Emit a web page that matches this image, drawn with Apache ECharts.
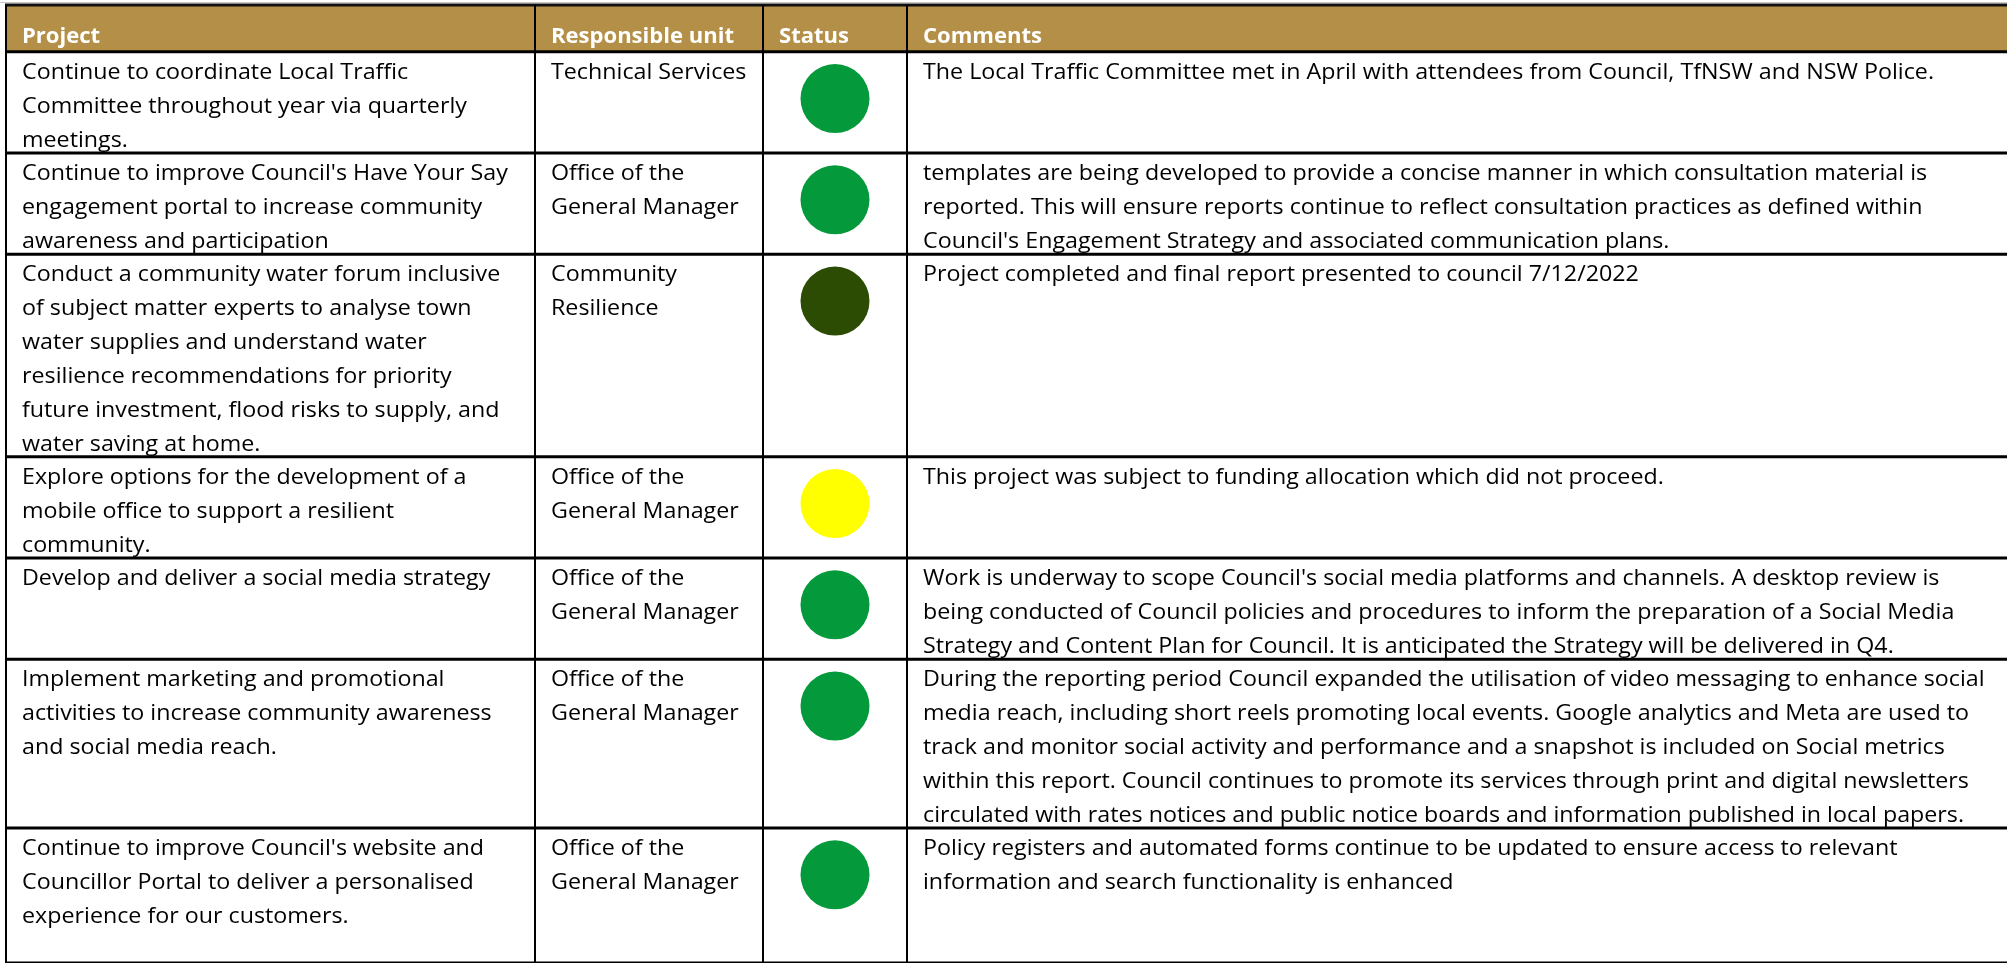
<!DOCTYPE html>
<html><head><meta charset="utf-8">
<script src="https://cdn.jsdelivr.net/npm/echarts@6/dist/echarts.min.js"></script>
<style>html,body{margin:0;padding:0;background:#fff;overflow:hidden}#c{width:2007px;height:963px}</style>
</head><body><div id="c"></div>
<script>
// ---------------- DATA ----------------
const headers = ['Project', 'Responsible unit', 'Status', 'Comments'];

const projects = [
  ['Continue to coordinate Local Traffic', 'Committee throughout year via quarterly', 'meetings.'],
  ["Continue to improve Council's Have Your Say", 'engagement portal to increase community', 'awareness and participation'],
  ['Conduct a community water forum inclusive', 'of subject matter experts to analyse town', 'water supplies and understand water', 'resilience recommendations for priority', 'future investment, flood risks to supply, and', 'water saving at home.'],
  ['Explore options for the development of a', 'mobile office to support a resilient', 'community.'],
  ['Develop and deliver a social media strategy'],
  ['Implement marketing and promotional', 'activities to increase community awareness', 'and social media reach.'],
  ["Continue to improve Council's website and", 'Councillor Portal to deliver a personalised', 'experience for our customers.']
];

const units = [
  ['Technical Services'],
  ['Office of the', 'General Manager'],
  ['Community', 'Resilience'],
  ['Office of the', 'General Manager'],
  ['Office of the', 'General Manager'],
  ['Office of the', 'General Manager'],
  ['Office of the', 'General Manager']
];

const statuses = ['onTrack', 'onTrack', 'completed', 'notProceeding', 'onTrack', 'onTrack', 'onTrack'];

const comments = [
  ['The Local Traffic Committee met in April with attendees from Council, TfNSW and NSW Police.'],
  ['templates are being developed to provide a concise manner in which consultation material is', 'reported. This will ensure reports continue to reflect consultation practices as defined within', "Council's Engagement Strategy and associated communication plans."],
  ['Project completed and final report presented to council 7/12/2022'],
  ['This project was subject to funding allocation which did not proceed.'],
  ["Work is underway to scope Council's social media platforms and channels. A desktop review is", 'being conducted of Council policies and procedures to inform the preparation of a Social Media', 'Strategy and Content Plan for Council. It is anticipated the Strategy will be delivered in Q4.'],
  ['During the reporting period Council expanded the utilisation of video messaging to enhance social', 'media reach, including short reels promoting local events. Google analytics and Meta are used to', 'track and monitor social activity and performance and a snapshot is included on Social metrics', 'within this report. Council continues to promote its services through print and digital newsletters', 'circulated with rates notices and public notice boards and information published in local papers.'],
  ['Policy registers and automated forms continue to be updated to ensure access to relevant', 'information and search functionality is enhanced']
];

// number of text lines each row is tall
const rowLines = [3, 3, 6, 3, 3, 5, 4];

// ---------------- LAYOUT / STYLE ----------------
const W = 2007;
const COL_X = [6, 535, 763, 907, W];
const TOP = 5;
const LINE_H = 33.9;
const HEADER_LINES = 47 / LINE_H;
const CIRCLE_DY = 47 / LINE_H;
const PAD = 16;
const TEXT_DY = 4;
const FS = 22;
const HFS = 22;
const FF = '"Open Sans", sans-serif';
const HEADER_FILL = '#B38F47';
const STATUS_COLORS = { onTrack: '#04993A', completed: '#2D4C03', notProceeding: '#FFFF00' };

// horizontal compression to mimic the narrow original face
const mctx = document.createElement('canvas').getContext('2d');
mctx.font = FS + 'px ' + FF;
const SX = 1011 / mctx.measureText(comments[0][0]).width;
mctx.font = 'bold ' + HFS + 'px ' + FF;
const HSX = 183 / mctx.measureText(headers[1]).width;

const starts = [];
rowLines.reduce((acc, n) => { starts.push(acc); return acc + n; }, 0);
const TOTAL = rowLines.reduce((a, b) => a + b, 0);

const chart = echarts.init(document.getElementById('c'), null, { renderer: 'canvas' });

function renderHeader(params, api) {
  const yTop = api.coord([0, -HEADER_LINES])[1];
  const yBot = api.coord([0, 0])[1];
  const xs = COL_X.map(x => api.coord([x, 0])[0]);
  const ch = [];
  ch.push({ type: 'rect', shape: { x: xs[0], y: yTop, width: xs[4] - xs[0], height: yBot - yTop }, style: { fill: HEADER_FILL } });
  ch.push({ type: 'line', shape: { x1: 0, y1: yTop - 2.5, x2: W, y2: yTop - 2.5 }, style: { stroke: '#c8c8c8', lineWidth: 1 } });
  ch.push({ type: 'line', shape: { x1: xs[0] - 1, y1: yTop, x2: xs[4], y2: yTop }, style: { stroke: '#111', lineWidth: 3 } });
  headers.forEach((h, c) => {
    ch.push({ type: 'text', x: xs[c] + PAD, y: yBot - 15, scaleX: HSX,
      style: { text: h, fill: '#fff', fontSize: HFS, fontWeight: 'bold', fontFamily: FF, align: 'left', verticalAlign: 'middle' } });
  });
  for (let c = 0; c < 4; c++) {
    ch.push({ type: 'line', shape: { x1: xs[c], y1: yTop, x2: xs[c], y2: yBot }, style: { stroke: '#000', lineWidth: 2 } });
  }
  ch.push({ type: 'line', shape: { x1: xs[0] - 1, y1: yBot, x2: xs[4], y2: yBot }, style: { stroke: '#000', lineWidth: 3 } });
  return { type: 'group', children: ch };
}

function renderRow(params, api) {
  const i = api.value(0), start = api.value(1), n = api.value(2);
  const yTop = api.coord([0, start])[1];
  const yBot = api.coord([0, start + n])[1];
  const xs = COL_X.map(x => api.coord([x, 0])[0]);
  const ch = [];
  const cells = [projects[i], units[i], null, comments[i]];
  cells.forEach((lines, c) => {
    if (!lines) return;
    ch.push({ type: 'text', x: xs[c] + PAD, y: yTop + TEXT_DY, scaleX: SX,
      style: { text: lines.join('\n'), fill: '#000', fontSize: FS, fontFamily: FF, lineHeight: LINE_H, align: 'left', verticalAlign: 'top' } });
  });
  for (let c = 0; c < 4; c++) {
    ch.push({ type: 'line', shape: { x1: xs[c], y1: yTop, x2: xs[c], y2: yBot }, style: { stroke: '#000', lineWidth: 2 } });
  }
  ch.push({ type: 'line', shape: { x1: xs[0] - 1, y1: yBot, x2: xs[4], y2: yBot }, style: { stroke: '#000', lineWidth: 3 } });
  return { type: 'group', children: ch };
}

chart.setOption({
  animation: false,
  backgroundColor: '#fff',
  grid: { left: 0, top: TOP, width: W, height: (TOTAL + HEADER_LINES) * LINE_H, containLabel: false },
  xAxis: { type: 'value', min: 0, max: W, show: false },
  yAxis: { type: 'value', min: -HEADER_LINES, max: TOTAL, inverse: true, show: false },
  series: [
    { type: 'custom', renderItem: renderHeader, data: [[0]], z: 2, silent: true },
    { type: 'custom', renderItem: renderRow, data: rowLines.map((n, i) => [i, starts[i], n]), z: 3, silent: true },
    { type: 'scatter', symbol: 'circle', symbolSize: 69, z: 5, silent: true,
      data: statuses.map((s, i) => ({ value: [(COL_X[2] + COL_X[3]) / 2, starts[i] + CIRCLE_DY], itemStyle: { color: STATUS_COLORS[s], opacity: 1 } })) }
  ]
});
</script>
</body></html>
